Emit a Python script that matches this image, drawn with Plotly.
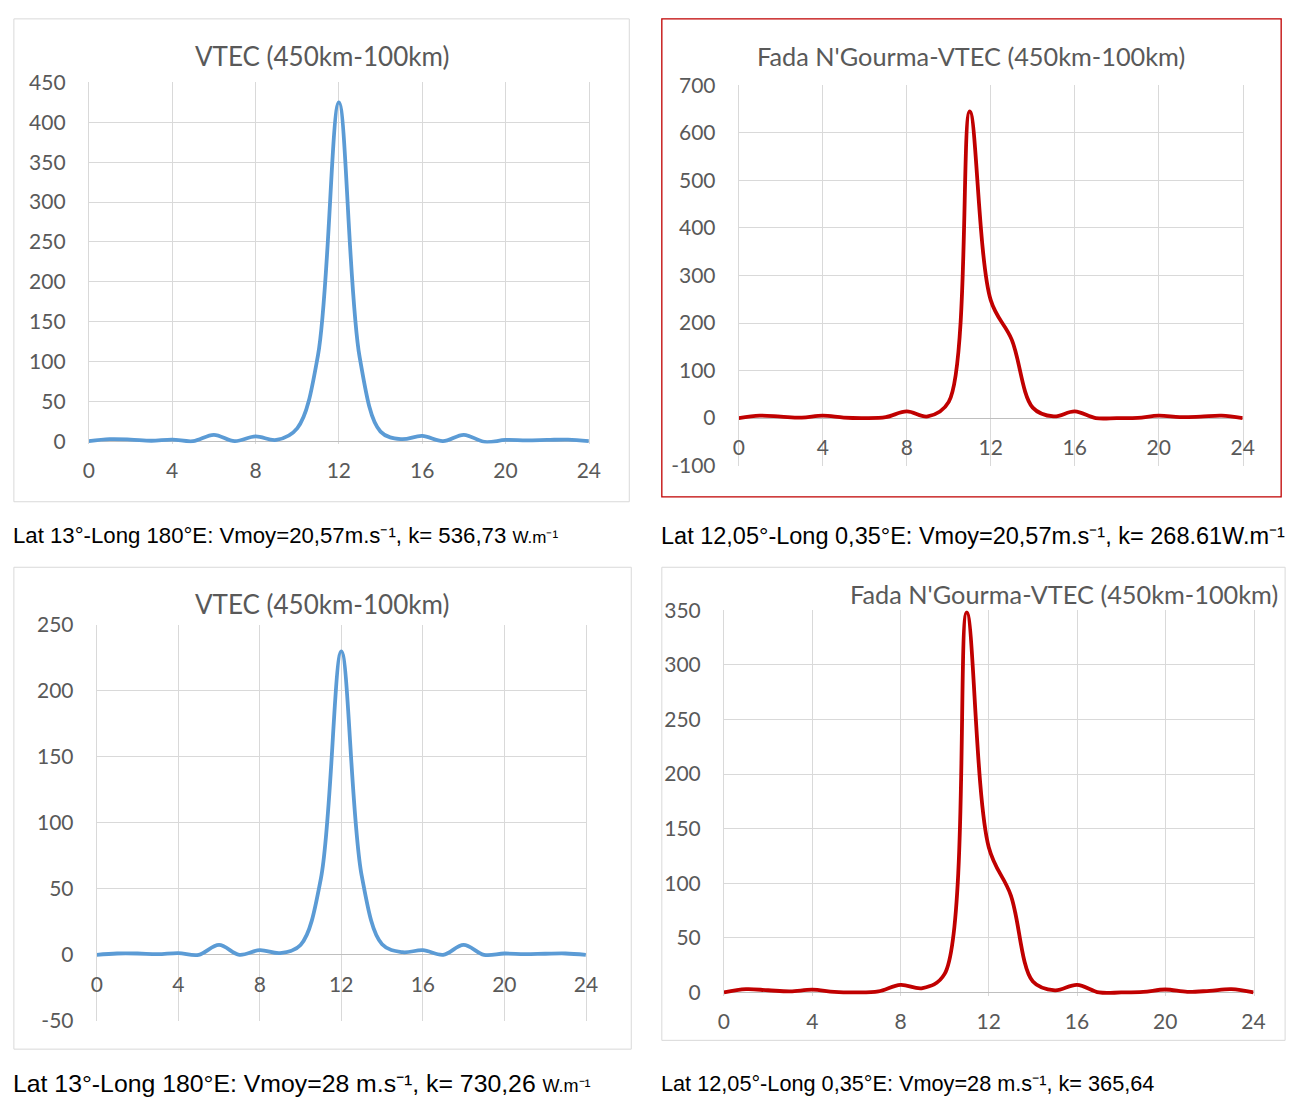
import plotly.graph_objects as go

W, H = 1305, 1110

hours = list(range(25))
x_ticks = [0, 4, 8, 12, 16, 20, 24]
y_ticks_a = [0, 50, 100, 150, 200, 250, 300, 350, 400, 450]
y_ticks_b = [-100, 0, 100, 200, 300, 400, 500, 600, 700]
y_ticks_c = [-50, 0, 50, 100, 150, 200, 250]
y_ticks_d = [0, 50, 100, 150, 200, 250, 300, 350]

vtec_a = [0, 2.5, 2, 0.5, 2, 0, 8, 0, 6, 1.5, 16, 108, 425, 105, 12, 2.5, 6.5, 0, 8, -1, 1.5, 1, 1.5, 2, 0]
vtec_b = [0, 5, 3, 1, 5, 1, 0, 2, 14, 3.5, 34, 645, 248, 165, 22, 3.5, 14, 0, 0, 0.5, 5, 2, 3, 5, 0]
vtec_c = [0, 1, 1, 0.5, 1.3, 0, 7.5, 0, 3.6, 1.3, 7.5, 58, 230, 60, 8, 2, 3.5, 0, 7.5, 0, 1, 0.5, 0.8, 1, 0]
vtec_d = [0, 3, 2, 1, 2.5, 0.5, 0, 1, 7, 4, 17, 348, 133, 89, 10, 2, 7, 0, 0, 0.5, 2.7, 0.5, 1.5, 3, 0]

titles = ["VTEC (450km-100km)", "Fada N'Gourma-VTEC (450km-100km)",
          "VTEC (450km-100km)", "Fada N'Gourma-VTEC (450km-100km)"]

captions = [
    "Lat 13°-Long 180°E: Vmoy=20,57m.s⁻¹, k= 536,73 <span style='font-size:17px'>W.m⁻¹</span>",
    "Lat 12,05°-Long 0,35°E: Vmoy=20,57m.s⁻¹, k= 268.61W.m⁻¹",
    "Lat 13°-Long 180°E: Vmoy=28 m.s⁻¹, k= 730,26 <span style='font-size:18px'>W.m⁻¹</span>",
    "Lat 12,05°-Long 0,35°E: Vmoy=28 m.s⁻¹, k= 365,64",
]

BLUE = "#5b9bd5"
RED = "#c00000"
GRID = "#d9d9d9"
AXIS = "#bfbfbf"
TXT = "#595959"


def px_x(px):
    return px / W


def px_y(py):
    return 1 - py / H


panels = [
    dict(data=vtec_a, yt=y_ticks_a, color=BLUE, xl=84, xr=591, ytop=70, vtop=450, ybot=437, vbot=0, ymin=-3),
    dict(data=vtec_b, yt=y_ticks_b, color=RED, xl=743, xr=1254, ytop=73, vtop=700, ybot=462, vbot=-100, ymin=-100),
    dict(data=vtec_c, yt=y_ticks_c, color=BLUE, xl=92, xr=588, ytop=625, vtop=250, ybot=1030, vbot=-50, ymin=-50),
    dict(data=vtec_d, yt=y_ticks_d, color=RED, xl=728, xr=1265, ytop=610, vtop=350, ybot=1001, vbot=0, ymin=-3),
]

fig = go.Figure()
layout = dict(width=W, height=H, margin=dict(l=0, r=0, t=0, b=0), autosize=False,
              paper_bgcolor="white", plot_bgcolor="white", showlegend=False)

for i, p in enumerate(panels, start=1):
    sfx = "" if i == 1 else str(i)
    fig.add_trace(go.Scatter(x=hours, y=p["data"], mode="lines",
                             line=dict(color=p["color"], width=3.8, shape="spline", smoothing=1),
                             xaxis="x" + sfx, yaxis="y" + sfx, hoverinfo="skip"))
    ppu = (p["ybot"] - p["ytop"]) / (p["vtop"] - p["vbot"])
    zero_px = p["ybot"] - (0 - p["vbot"]) * ppu
    bot_px = p["ybot"] + (p["vbot"] - p["ymin"]) * ppu
    layout["xaxis" + sfx] = dict(
        domain=[px_x(p["xl"]), px_x(p["xr"])], range=[0, 24],
        anchor="free", position=px_y(zero_px),
        tickvals=x_ticks, ticktext=[str(v) for v in x_ticks],
        showgrid=True, gridcolor=GRID, gridwidth=1, zeroline=False,
        showline=False, ticks="", ticklabelstandoff=15,
        tickfont=dict(family="Lato", size=21, color=TXT), fixedrange=True,
    )
    layout["yaxis" + sfx] = dict(
        domain=[px_y(bot_px), px_y(p["ytop"])], range=[p["ymin"], p["vtop"]],
        anchor="x" + sfx, tickvals=p["yt"], ticktext=[str(v) for v in p["yt"]],
        showgrid=True, gridcolor=GRID, gridwidth=1,
        zeroline=True, zerolinecolor=AXIS, zerolinewidth=1,
        showline=True, linecolor=GRID, linewidth=1, mirror=True,
        ticks="", ticklabelstandoff=18,
        tickfont=dict(family="Lato", size=21, color=TXT), fixedrange=True,
    )

fig.update_layout(**layout)

boxes = [(8, 5, 632, 499, GRID), (665, 5, 1293, 494, RED),
         (8, 566, 634, 1059, GRID), (665, 566, 1297, 1050, GRID)]
for x0, y0, x1, y1, c in boxes:
    fig.add_shape(type="rect", xref="paper", yref="paper",
                  x0=px_x(x0), x1=px_x(x1), y0=px_y(y1), y1=px_y(y0),
                  line=dict(color=c, width=1.3 if c == RED else 1), layer="below")

title_pos = [(320, 43, 26), (979, 43, 25.3), (320, 604, 26), (1073, 593, 25.3)]
for t, (tx, ty, sz) in zip(titles, title_pos):
    fig.add_annotation(text=t, xref="paper", yref="paper", x=px_x(tx), y=px_y(ty),
                       xanchor="center", yanchor="middle", showarrow=False,
                       font=dict(family="Lato", size=sz, color=TXT))

cap_pos = [(5, 534, 22.2), (662, 534, 23.5), (5, 1094, 24.8), (662, 1094, 21.7)]
for c, (cx, cy, sz) in zip(captions, cap_pos):
    fig.add_annotation(text=c, xref="paper", yref="paper", x=px_x(cx), y=px_y(cy),
                       xanchor="left", yanchor="middle", showarrow=False,
                       font=dict(family="Liberation Sans, Arial, sans-serif", size=sz, color="black"))

fig.write_html("out.html", config={"displayModeBar": False, "responsive": False})
